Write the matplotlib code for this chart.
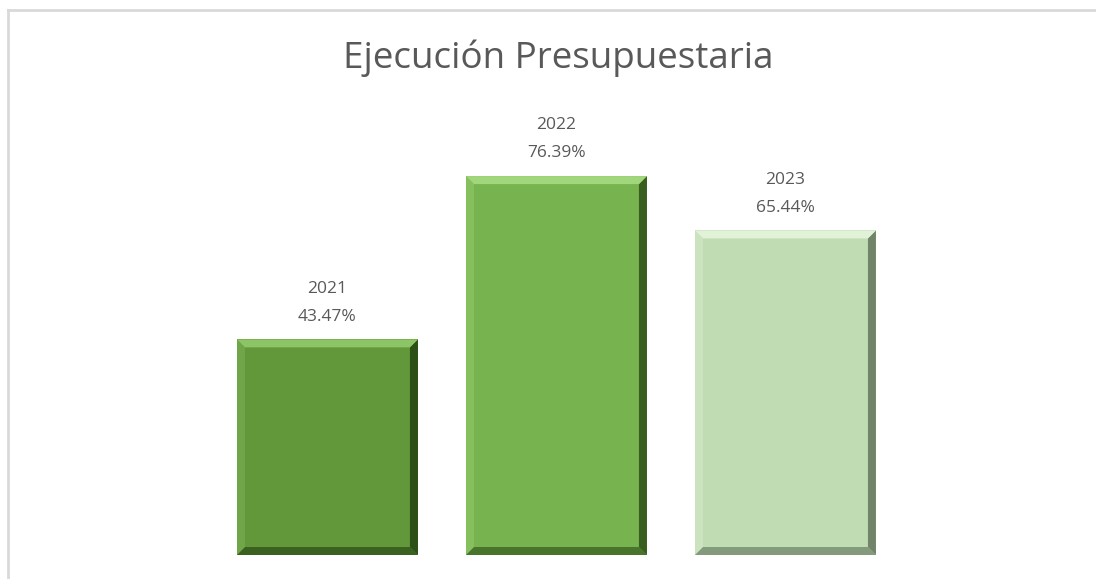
import numpy as np
import matplotlib.pyplot as plt
from matplotlib.patches import Polygon
from matplotlib.lines import Line2D

years = ["2021", "2022", "2023"]
values = [43.47, 76.39, 65.44]
colors = ["#62973A", "#77B34E", "#BFDCB2"]
light_colors = ["#8CC466", "#A2D67C", "#E2F2D8"]
dark_colors = ["#203D10", "#2A4A15", "#5E6E58"]

plt.rcParams['font.family'] = ['Open Sans', 'DejaVu Sans']

fig = plt.figure(figsize=(10.96, 5.79), dpi=100)
W, H = 1096, 579

# axes placed so that 0 sits at pixel row 555
ax = fig.add_axes([98.5 / W, 24 / H, 916 / W, 496 / H])
ax.set_xlim(-1, 3)
ax.set_ylim(0, 100)
ax.axis('off')

x = np.arange(len(years))
bars = ax.bar(x, values, width=0.79, color=colors, zorder=2)

# bevel size in data units (~8 px)
dx = 8 * 4 / 916
dy = 8 * 100 / 496

for i, b in enumerate(bars):
    x0 = b.get_x()
    w = b.get_width()
    h = b.get_height()
    x1 = x0 + w
    top = Polygon([(x0, h), (x1, h), (x1 - dx, h - dy), (x0 + dx, h - dy)],
                  closed=True, color=light_colors[i], zorder=3, lw=0)
    left = Polygon([(x0, 0), (x0, h), (x0 + dx, h - dy), (x0 + dx, dy)],
                   closed=True, color=light_colors[i], alpha=0.35, zorder=3, lw=0)
    right = Polygon([(x1, 0), (x1, h), (x1 - dx, h - dy), (x1 - dx, dy)],
                    closed=True, color=dark_colors[i], alpha=0.8, zorder=3, lw=0)
    bottom = Polygon([(x0, 0), (x1, 0), (x1 - dx, dy), (x0 + dx, dy)],
                     closed=True, color=dark_colors[i], alpha=0.6, zorder=3, lw=0)
    for p in (left, bottom, right, top):
        ax.add_patch(p)
    ax.text(b.get_x() + w / 2, h + 3.0, years[i] + "\n" + f"{values[i]:.2f}%",
            ha='center', va='bottom', fontsize=12.5, color='#595959',
            linespacing=2.0)

fig.text(558 / W, 1 - 58 / H, "Ejecución Presupuestaria", ha='center', va='center',
         fontsize=26.5, color='#595959')

# chart frame (left and top edges)
fig.add_artist(Line2D([8 / W, 8 / W], [0, 1 - 10 / H], color='#d9d9d9', lw=2))
fig.add_artist(Line2D([8 / W, 1], [1 - 10 / H, 1 - 10 / H], color='#d9d9d9', lw=2))

fig.savefig("out.png", dpi=100)
